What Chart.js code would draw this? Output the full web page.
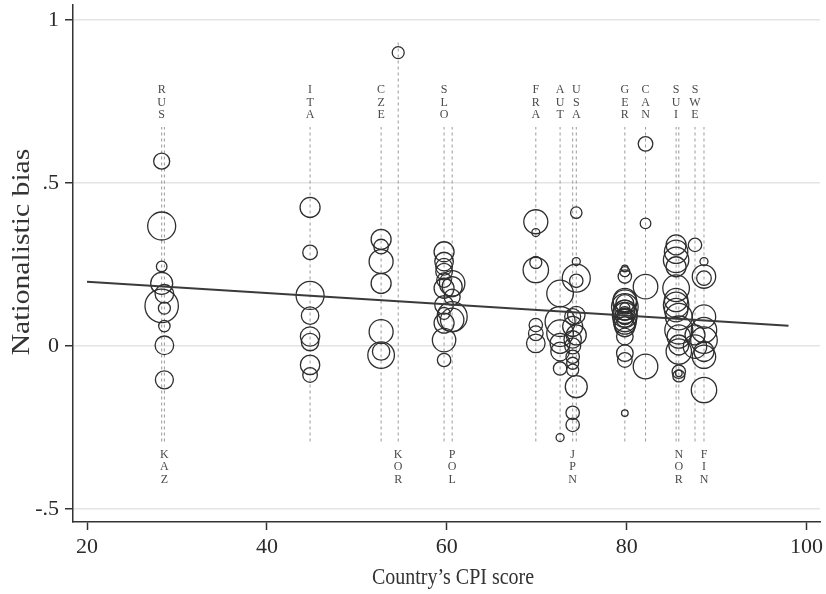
<!DOCTYPE html>
<html><head><meta charset="utf-8">
<script src="https://cdn.jsdelivr.net/npm/chart.js@4.4.1/dist/chart.umd.min.js"></script>
<style>html,body{margin:0;padding:0;background:#fff;}#wrap{width:826px;height:594px;position:relative;}</style>
</head><body><div id="wrap"><canvas id="c"></canvas></div>
<script>
// ---- data ----
const countries  = ['RUS','KAZ','ITA','CZE','KOR','SLO','POL','FRA','AUT','USA','JPN','GER','CAN','SUI','NOR','SWE','FIN'];
const cpiScores  = [28.3, 28.6, 44.8, 52.7, 54.6, 59.7, 60.6, 69.9, 72.6, 74.4, 74.0, 79.8, 82.1, 85.5, 85.8, 87.6, 88.6];
const labelSide  = ['top','bottom','top','top','bottom','top','bottom','top','top','top','bottom','top','top','top','bottom','top','bottom'];
const spanTop    = [0.672,0.672,0.672,0.672,0.935,0.672,0.672,0.672,0.672,0.672,0.672,0.672,0.672,0.672,0.672,0.672,0.672];
const spanBottom = [-0.293,-0.293,-0.293,-0.293,-0.293,-0.293,-0.293,-0.293,-0.293,-0.293,-0.293,-0.293,-0.293,-0.293,-0.293,-0.293,-0.293];

const biasRUS = [0.567, 0.368, 0.244, 0.192, 0.123];
const wRUS    = [8, 14, 5.3, 11, 16.7];
const biasKAZ = [0.16, 0.116, 0.061, 0.002, -0.104];
const wKAZ    = [9.3, 6, 5.7, 9.3, 9];
const biasITA = [0.425, 0.287, 0.155, 0.093, 0.029, 0.012, -0.058, -0.089];
const wITA    = [10, 7.3, 14, 8.7, 9.7, 8.7, 9.7, 7.3];
const biasCZE = [0.327, 0.305, 0.259, 0.192, 0.044, -0.017, -0.028];
const wCZE    = [10, 7.3, 12, 10, 12, 8.7, 13.3];
const biasKOR = [0.90];
const wKOR    = [6];
const biasSLO = [0.289, 0.259, 0.243, 0.228, 0.202, 0.177, 0.126, 0.10, 0.07, 0.018, -0.043];
const wSLO    = [10, 9.3, 8.3, 8.3, 7.3, 10, 9.3, 6, 10, 11.7, 6.7];
const biasPOL = [0.192, 0.182, 0.15, 0.09, 0.08];
const wPOL    = [12.7, 10, 8, 15, 11.7];
const biasFRA = [0.381, 0.348, 0.256, 0.233, 0.064, 0.039, 0.008];
const wFRA    = [12, 4, 6, 12.7, 6.7, 7.3, 9.3];
const biasAUT = [0.161, 0.075, 0.039, 0.008, -0.017, -0.069, -0.281];
const wAUT    = [13.3, 15, 13.3, 10, 9.3, 6.7, 4];
const biasUSA = [0.409, 0.259, 0.208, 0.2, 0.095, 0.034, -0.125];
const wUSA    = [5.7, 4, 14, 6.7, 8.7, 10, 11];
const biasJPN = [0.09, 0.06, 0.02, 0.0, -0.033, -0.053, -0.074, -0.205, -0.242];
const wJPN    = [8, 10, 8.7, 8, 6.7, 6, 6, 6.7, 6.7];
const biasGER = [0.238, 0.228, 0.213, 0.141, 0.135, 0.13, 0.12, 0.117, 0.11, 0.105, 0.1, 0.095, 0.09, 0.085, 0.08, 0.07, 0.059, 0.029, -0.022, -0.043, -0.206];
const wGER    = [3.3, 5, 6.7, 11.7, 12, 9, 13.3, 5, 10, 11.7, 6.7, 12.5, 8, 9, 11.7, 11, 10, 8.3, 8.3, 7.3, 3.3];
const biasCAN = [0.62, 0.376, 0.182, -0.063];
const wCAN    = [7.3, 5.3, 12.3, 12.3];
const biasSUI = [0.31, 0.289, 0.264, 0.243, 0.177, 0.141, 0.126, 0.11];
const wSUI    = [10, 11.7, 12.7, 10, 13.3, 11.7, 12.7, 11.7];
const biasNOR = [0.09, 0.049, 0.029, 0.003, -0.017, -0.079, -0.084, -0.092];
const wNOR    = [13.3, 14, 11.7, 10, 12.7, 6.7, 3.3, 6];
const biasSWE = [0.31, 0.034, -0.002];
const wSWE    = [6.7, 10, 11.7];
const biasFIN = [0.259, 0.213, 0.208, 0.09, 0.049, 0.018, -0.017, -0.033, -0.135];
const wFIN    = [4, 11.7, 7.3, 11.7, 12.7, 13.3, 10, 11.7, 12.7];

const fitX = [20, 98];
const fitY = [0.197, 0.062];

const xTicks = [20, 40, 60, 80, 100];
const xTickLabels = ['20', '40', '60', '80', '100'];
const yTicks = [-0.5, 0, 0.5, 1];
const yTickLabels = ['-.5', '0', '.5', '1'];
const xTitle = 'Country\u2019s CPI score';
const yTitle = 'Nationalistic bias';

// ---- build ----
const biasList = [biasRUS,biasKAZ,biasITA,biasCZE,biasKOR,biasSLO,biasPOL,biasFRA,biasAUT,biasUSA,biasJPN,biasGER,biasCAN,biasSUI,biasNOR,biasSWE,biasFIN];
const weightList = [wRUS,wKAZ,wITA,wCZE,wKOR,wSLO,wPOL,wFRA,wAUT,wUSA,wJPN,wGER,wCAN,wSUI,wNOR,wSWE,wFIN];

const SERIF = '"Liberation Serif", "DejaVu Serif", serif';
const datasets = [];
datasets.push({
  type: 'line', label: 'fit', order: 0,
  data: fitX.map((x, i) => ({x, y: fitY[i]})),
  borderColor: '#3a3a3a', borderWidth: 2, pointRadius: 0, fill: false
});
countries.forEach((c, i) => {
  datasets.push({
    type: 'bubble', label: c, order: 1,
    data: biasList[i].map((b, j) => ({x: cpiScores[i], y: b, r: weightList[i][j]})),
    backgroundColor: 'rgba(0,0,0,0)', borderColor: '#2e2e2e', borderWidth: 1.3,
    hoverBorderWidth: 1.3
  });
});
countries.forEach((c, i) => {
  datasets.push({
    type: 'line', label: c + ' span', order: 2,
    data: [{x: cpiScores[i], y: spanBottom[i]}, {x: cpiScores[i], y: spanTop[i]}],
    borderColor: '#9a9a9a', borderWidth: 1, borderDash: [3, 3], pointRadius: 0, fill: false
  });
});

const textPlugin = {
  id: 'texts',
  afterDatasetsDraw(chart) {
    const ctx = chart.ctx, xs = chart.scales.x, ys = chart.scales.y;
    ctx.save();
    ctx.fillStyle = '#4a4a4a';
    ctx.font = '12px ' + SERIF;
    ctx.textAlign = 'center';
    ctx.textBaseline = 'middle';
    countries.forEach((c, i) => {
      const px = xs.getPixelForValue(cpiScores[i]);
      const letters = c.split('');
      if (labelSide[i] === 'top') {
        const yEnd = ys.getPixelForValue(spanTop[i]) - 12;
        letters.forEach((ch, k) => ctx.fillText(ch, px, yEnd - (letters.length - 1 - k) * 12.5));
      } else {
        const yStart = ys.getPixelForValue(spanBottom[i]) + 13;
        letters.forEach((ch, k) => ctx.fillText(ch, px, yStart + k * 12.5));
      }
    });
    ctx.restore();
  },
  afterDraw(chart) {
    const ctx = chart.ctx;
    ctx.save();
    ctx.fillStyle = '#333';
    ctx.textAlign = 'center';
    ctx.textBaseline = 'middle';
    // x title
    ctx.save();
    ctx.translate(453, 578);
    ctx.scale(1, 1.2);
    ctx.font = '20px ' + SERIF;
    ctx.fillText(xTitle, 0, 0);
    ctx.restore();
    // y title
    ctx.translate(22, 252);
    ctx.rotate(-Math.PI / 2);
    ctx.scale(1.14, 1);
    ctx.font = '26px ' + SERIF;
    ctx.fillText(yTitle, 0, 0);
    ctx.restore();
  }
};

new Chart(document.getElementById('c'), {
  type: 'bubble',
  data: {datasets},
  options: {
    responsive: true, maintainAspectRatio: false, animation: false,
    devicePixelRatio: 1,
    layout: {autoPadding: false, padding: {top: 5, right: 6, left: 0, bottom: 0}},
    plugins: {legend: {display: false}, tooltip: {enabled: false}},
    scales: {
      x: {
        type: 'linear', min: 18.44, max: 101.5,
        afterBuildTicks: s => { s.ticks = xTicks.map(v => ({value: v})); },
        afterFit: s => { s.height = 72; s.paddingLeft = 0; s.paddingRight = 0; },
        ticks: {font: {family: SERIF, size: 22}, color: '#2a2a2a', padding: 4,
                callback: v => xTickLabels[xTicks.indexOf(v)]},
        grid: {drawOnChartArea: false, drawTicks: true, tickLength: 8, tickColor: '#333', tickWidth: 1.5},
        border: {display: true, color: '#333', width: 1.5}
      },
      y: {
        type: 'linear', min: -0.54, max: 1.046,
        afterBuildTicks: s => { s.ticks = yTicks.map(v => ({value: v})); },
        afterFit: s => { s.width = 73; s.paddingTop = 0; s.paddingBottom = 0; },
        ticks: {font: {family: SERIF, size: 22}, color: '#2a2a2a', padding: 6,
                callback: v => yTickLabels[yTicks.indexOf(v)]},
        grid: {color: '#e4e4e4', lineWidth: 1.5, drawTicks: true, tickLength: 8, tickColor: '#333', tickWidth: 1.5},
        border: {display: true, color: '#333', width: 1.5}
      }
    }
  },
  plugins: [textPlugin]
});
</script>
</body></html>
